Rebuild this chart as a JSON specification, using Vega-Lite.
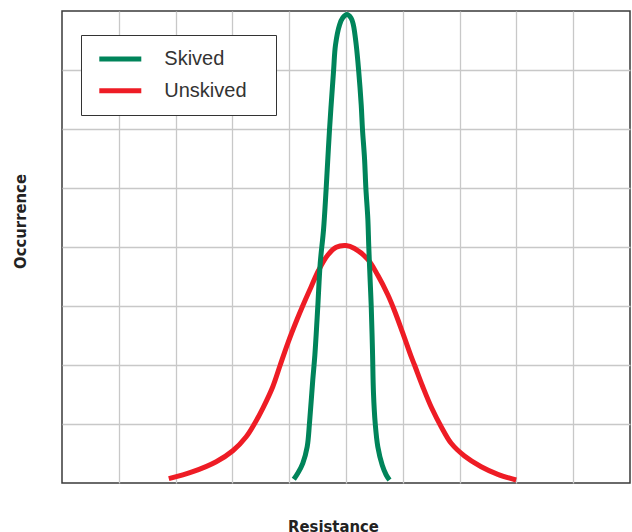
{
  "$schema": "https://vega.github.io/schema/vega-lite/v6.json",
  "width": 568,
  "height": 472,
  "autosize": {"type": "none"},
  "padding": {"left": 62, "top": 11, "right": 2, "bottom": 49},
  "background": "white",
  "config": {
    "view": {"stroke": "#3a3a3a", "strokeWidth": 1.5},
    "axis": {"domain": false, "ticks": false, "labels": false, "gridColor": "#c8c8c8", "gridWidth": 1.3, "titleFont": "DejaVu Sans Condensed, Liberation Sans Narrow, sans-serif", "titleFontWeight": "bold", "titleFontSize": 16.5, "titleColor": "#222222"}
  },
  "datasets": {
    "curves": [
      {"series": "Unskived", "resistance": 1.880, "occurrence": 0.073},
      {"series": "Unskived", "resistance": 2.303, "occurrence": 0.192},
      {"series": "Unskived", "resistance": 2.715, "occurrence": 0.361},
      {"series": "Unskived", "resistance": 3.007, "occurrence": 0.547},
      {"series": "Unskived", "resistance": 3.243, "occurrence": 0.785},
      {"series": "Unskived", "resistance": 3.389, "occurrence": 1.005},
      {"series": "Unskived", "resistance": 3.535, "occurrence": 1.266},
      {"series": "Unskived", "resistance": 3.711, "occurrence": 1.632},
      {"series": "Unskived", "resistance": 3.842, "occurrence": 2.000},
      {"series": "Unskived", "resistance": 3.975, "occurrence": 2.368},
      {"series": "Unskived", "resistance": 4.134, "occurrence": 2.763},
      {"series": "Unskived", "resistance": 4.239, "occurrence": 3.005},
      {"series": "Unskived", "resistance": 4.387, "occurrence": 3.327},
      {"series": "Unskived", "resistance": 4.521, "occurrence": 3.610},
      {"series": "Unskived", "resistance": 4.680, "occurrence": 3.864},
      {"series": "Unskived", "resistance": 4.827, "occurrence": 3.995},
      {"series": "Unskived", "resistance": 5.000, "occurrence": 4.025},
      {"series": "Unskived", "resistance": 5.150, "occurrence": 3.975},
      {"series": "Unskived", "resistance": 5.384, "occurrence": 3.790},
      {"series": "Unskived", "resistance": 5.560, "occurrence": 3.520},
      {"series": "Unskived", "resistance": 5.736, "occurrence": 3.190},
      {"series": "Unskived", "resistance": 5.854, "occurrence": 2.920},
      {"series": "Unskived", "resistance": 6.000, "occurrence": 2.540},
      {"series": "Unskived", "resistance": 6.148, "occurrence": 2.141},
      {"series": "Unskived", "resistance": 6.206, "occurrence": 2.000},
      {"series": "Unskived", "resistance": 6.352, "occurrence": 1.632},
      {"series": "Unskived", "resistance": 6.511, "occurrence": 1.266},
      {"series": "Unskived", "resistance": 6.676, "occurrence": 0.954},
      {"series": "Unskived", "resistance": 6.852, "occurrence": 0.673},
      {"series": "Unskived", "resistance": 7.086, "occurrence": 0.458},
      {"series": "Unskived", "resistance": 7.380, "occurrence": 0.276},
      {"series": "Unskived", "resistance": 7.673, "occurrence": 0.147},
      {"series": "Unskived", "resistance": 7.996, "occurrence": 0.051},
      {"series": "Skived", "resistance": 4.081, "occurrence": 0.063},
      {"series": "Skived", "resistance": 4.151, "occurrence": 0.164},
      {"series": "Skived", "resistance": 4.239, "occurrence": 0.334},
      {"series": "Skived", "resistance": 4.317, "occurrence": 0.615},
      {"series": "Skived", "resistance": 4.357, "occurrence": 1.012},
      {"series": "Skived", "resistance": 4.415, "occurrence": 1.746},
      {"series": "Skived", "resistance": 4.452, "occurrence": 2.170},
      {"series": "Skived", "resistance": 4.504, "occurrence": 3.000},
      {"series": "Skived", "resistance": 4.546, "occurrence": 3.724},
      {"series": "Skived", "resistance": 4.604, "occurrence": 4.288},
      {"series": "Skived", "resistance": 4.651, "occurrence": 4.995},
      {"series": "Skived", "resistance": 4.710, "occurrence": 5.995},
      {"series": "Skived", "resistance": 4.782, "occurrence": 7.000},
      {"series": "Skived", "resistance": 4.815, "occurrence": 7.424},
      {"series": "Skived", "resistance": 4.886, "occurrence": 7.763},
      {"series": "Skived", "resistance": 4.940, "occurrence": 7.880},
      {"series": "Skived", "resistance": 5.014, "occurrence": 7.940},
      {"series": "Skived", "resistance": 5.090, "occurrence": 7.880},
      {"series": "Skived", "resistance": 5.130, "occurrence": 7.763},
      {"series": "Skived", "resistance": 5.180, "occurrence": 7.424},
      {"series": "Skived", "resistance": 5.222, "occurrence": 7.000},
      {"series": "Skived", "resistance": 5.268, "occurrence": 6.407},
      {"series": "Skived", "resistance": 5.290, "occurrence": 5.995},
      {"series": "Skived", "resistance": 5.326, "occurrence": 5.503},
      {"series": "Skived", "resistance": 5.350, "occurrence": 4.995},
      {"series": "Skived", "resistance": 5.384, "occurrence": 4.486},
      {"series": "Skived", "resistance": 5.401, "occurrence": 4.005},
      {"series": "Skived", "resistance": 5.426, "occurrence": 3.412},
      {"series": "Skived", "resistance": 5.444, "occurrence": 3.000},
      {"series": "Skived", "resistance": 5.466, "occurrence": 2.254},
      {"series": "Skived", "resistance": 5.484, "occurrence": 1.520},
      {"series": "Skived", "resistance": 5.514, "occurrence": 1.012},
      {"series": "Skived", "resistance": 5.560, "occurrence": 0.615},
      {"series": "Skived", "resistance": 5.637, "occurrence": 0.305},
      {"series": "Skived", "resistance": 5.708, "occurrence": 0.136},
      {"series": "Skived", "resistance": 5.766, "occurrence": 0.051}
    ]
  },
  "data": {"name": "curves"},
  "encoding": {
    "x": {"field": "resistance", "type": "quantitative", "scale": {"domain": [0, 10], "nice": false, "zero": false},
      "axis": {"title": "Resistance", "values": [1, 2, 3, 4, 5, 6, 7, 8, 9], "titleX": 271, "titleY": 48, "titleAnchor": null, "titleAlign": "center", "titleBaseline": "alphabetic"}},
    "y": {"field": "occurrence", "type": "quantitative", "scale": {"domain": [0, 8], "nice": false},
      "axis": {"title": "Occurrence", "values": [1, 2, 3, 4, 5, 6, 7], "titleX": -42, "titleY": 210, "titleAngle": -90, "titleAlign": "center", "titleBaseline": "middle"}},
    "color": {"field": "series", "type": "nominal",
      "scale": {"domain": ["Skived", "Unskived"], "range": ["#00845a", "#ee1c25"]},
      "legend": {"title": null, "orient": "none", "legendX": 19, "legendY": 24, "symbolType": "stroke", "symbolSize": 1764, "symbolStrokeWidth": 5, "symbolOffset": 2.2, "labelFont": "Liberation Sans, Arial, sans-serif", "labelFontSize": 20, "labelColor": "#333333", "labelOffset": 20.5, "labelExpr": "datum.label + '\u2800'", "padding": 13.6, "strokeColor": "#333333", "fillColor": "white", "clipHeight": 21, "rowPadding": 10.7}}
  },
  "layer": [
    {"transform": [{"filter": "datum.series === 'Unskived'"}], "mark": {"type": "line", "strokeWidth": 5, "interpolate": "catmull-rom", "strokeCap": "butt"}},
    {"transform": [{"filter": "datum.series === 'Skived'"}], "mark": {"type": "line", "strokeWidth": 5, "interpolate": "catmull-rom", "strokeCap": "butt"}}
  ]
}
